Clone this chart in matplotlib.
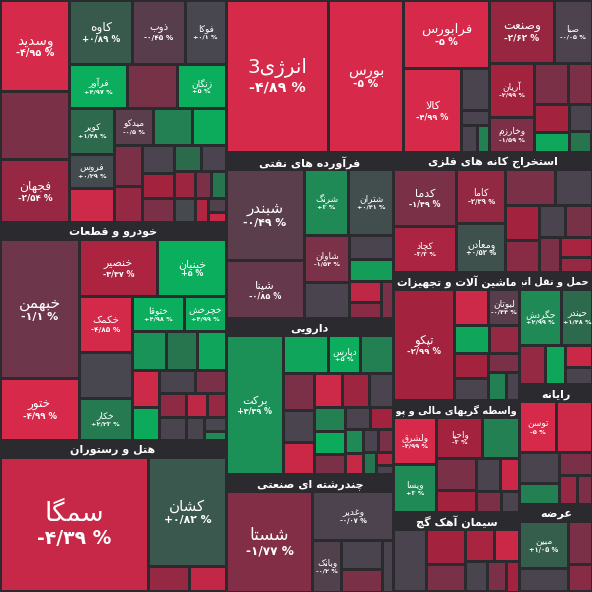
import unicodedata
import matplotlib
matplotlib.use("Agg")
import matplotlib.pyplot as plt
from matplotlib.patches import Rectangle
import numpy as np
from matplotlib.colors import LinearSegmentedColormap, Normalize

# ---------------- data ----------------
sector_names = {
    "TL": "", "AUTO": "خودرو و قطعات", "HOTEL": "هتل و رستوران",
    "FIN": "", "INV": "", "NAFT": "فرآورده های نفتی", "DARU": "دارویی",
    "CHAND": "چندرشته ای صنعتی", "ESTEKH": "استخراج کانه های فلزی",
    "MASH": "ماشین آلات و تجهیزات", "VASET": "واسطه گریهای مالی و پولی",
    "SIMAN": "سیمان آهک گچ", "HAML": "حمل و نقل انبارداری و ارتباطات",
    "RAYANE": "رایانه", "ARZE": "عرضه",
}
sector_sizes = {
    "TL": 50000, "AUTO": 49000, "HOTEL": 34000, "FIN": 40000, "INV": 15500,
    "NAFT": 27700, "DARU": 26000, "CHAND": 19500, "ESTEKH": 23600,
    "MASH": 16000, "VASET": 14000, "SIMAN": 10000, "HAML": 8100,
    "RAYANE": 8600, "ARZE": 6300,
}
TL_names = ["", "", "وسدید", "فجهان", "کاوه", "ذوب", "زنگان", "کویر", "فروس", "میدکو", "فوکا", "فرآور",
            "", "", "", "", "", "", "", "", "", "", "", "", "", "", "", "", ""]
TL_vals = [3750, 1750, 5100, 3500, 3200, 2700, 1700, 1600, 1200, 1150, 2100, 2000,
           1200, 1150, 1000, 900, 800, 700, 650, 600, 550, 500, 450, 400, 350, 300, 250, 200, 150]
TL_pct = [-1.5, -1.4, -4.95, -2.54, 0.89, -0.45, 5, 1.48, 0.29, -0.5, 0.1, 4.97,
          -4.6, 2.5, 4.8, -1.5, -2.5, 0.0, -3.0, -1.5, 1.5, 0.0, -2.8, 0.2, -1.6, 2.0, -3.5, -0.2, -4.5]

AUTO_names = ["خبهمن", "ختور", "خنصیر", "خبنیان", "خکمک", "خکار", "ختوقا", "خچرخش", "", "",
              "", "", "", "", "", "", "", "", "", "", "", "", ""]
AUTO_vals = [10800, 4800, 4400, 3800, 2900, 2200, 1800, 1400, 2400, 1300,
             1200, 1100, 1000, 900, 800, 700, 650, 600, 500, 450, 400, 300, 200]
AUTO_pct = [-1.1, -4.99, -3.37, 5, -4.85, 2.23, 4.98, 4.99, 0.1, 3.5,
            2.0, 4.5, -4.6, 4.8, 0.0, -1.5, -2.2, 0.0, -4.0, -2.5, 0.0, 0.1, 3.0]

HOTEL_names = ["سمگا", "کشان", "", ""]
HOTEL_vals = [19000, 8000, 900, 1000]
HOTEL_pct = [-4.39, 0.82, -4.2, -2.5]

FIN_names = ["انرژی3", "بورس", "فرابورس", "کالا", "", "", "", ""]
FIN_vals = [14500, 10700, 5500, 4500, 1100, 400, 400, 300]
FIN_pct = [-4.89, -5, -5, -4.99, 0.0, 0.0, 0.0, 2.5]

INV_names = ["وصنعت", "آریان", "صبا", "وخارزم", "", "", "", "", "", ""]
INV_vals = [3400, 2000, 2000, 1300, 1200, 800, 800, 600, 500, 400]
INV_pct = [-2.62, -2.99, -0.05, -1.59, -1.5, -3.0, -1.6, 4.6, 0.0, 2.0]

NAFT_names = ["شبندر", "شپنا", "شتران", "شرنگ", "شاوان", "", "", "", "", "", ""]
NAFT_vals = [6500, 4200, 2700, 2700, 2000, 1500, 1000, 900, 600, 500, 400]
NAFT_pct = [-0.49, -0.85, 0.41, 3, -1.54, 0.0, 0.0, 4.0, -4.0, -2.0, -1.5]

DARU_names = ["برکت", "دپارس", "", "", "", "", "", "", "", "", "", "", "", "", "", "", "", "", "", "", "", ""]
DARU_vals = [7000, 1100, 1500, 1100, 1000, 900, 900, 800, 800, 700, 650, 600, 550, 500, 450, 400, 350, 300, 300, 250, 200, 150]
DARU_pct = [3.39, 5, 4.5, 2.5, -1.6, -4.5, 0.0, -2.8, -4.6, 0.0, 2.5, 4.8, -1.5, 0.0, -3.0, 3.0, -4.3, -1.5, 0.0, 2.0, -3.5, 0.0]

CHAND_names = ["شستا", "وغدیر", "وبانک", "", "", ""]
CHAND_vals = [8700, 3900, 1500, 1200, 900, 600]
CHAND_pct = [-1.77, -0.07, -0.2, 0.0, -1.5, 0.0]

ESTEKH_names = ["کدما", "کچاد", "کاما", "ومعادن", "تاصیکو", "", "", "", "", "", "", "", ""]
ESTEKH_vals = [3000, 2400, 2200, 2000, 700, 1500, 1100, 1000, 900, 700, 600, 500, 400]
ESTEKH_pct = [-1.49, -3.3, -2.39, 0.52, -1.44, -1.5, 0.0, -3.0, -2.0, 0.0, -1.6, -3.2, -2.5]

MASH_names = ["تپکو", "لبوتان", "", "", "", "", "", "", "", ""]
MASH_vals = [5500, 900, 1000, 800, 700, 700, 600, 500, 400, 300]
MASH_pct = [-2.99, -0.44, -4.6, 4.5, -3.0, -2.5, 0.0, -1.5, 2.5, 0.0]

VASET_names = ["ولشرق", "ویسا", "واحیا", "", "", "", "", "", "", ""]
VASET_vals = [1600, 1600, 1500, 1200, 1000, 700, 600, 500, 400, 300]
VASET_pct = [-4.99, 3, -3, 2.5, -1.5, -3.0, 0.0, -4.5, -1.6, 0.0]

SIMAN_names = ["", "", "", "", "", "", "", ""]
SIMAN_vals = [1500, 1000, 800, 700, 600, 500, 400, 300]
SIMAN_pct = [0.0, -3.0, -1.5, -3.2, -4.5, 0.0, -1.5, -3.0]

HAML_names = ["حگردش", "حیندر", "", "", "", ""]
HAML_vals = [2100, 1500, 900, 700, 500, 400]
HAML_pct = [2.99, 1.48, -2.5, 4.5, -4.5, 0.0]

RAYANE_names = ["توسن", "", "", "", "", "", ""]
RAYANE_vals = [1800, 1700, 1200, 800, 700, 500, 400]
RAYANE_pct = [-5, -4.6, 0.0, 2.5, -1.5, -2.5, -1.6]

ARZE_names = ["مبین", "", "", ""]
ARZE_vals = [1800, 900, 800, 500]
ARZE_pct = [1.05, 0.0, -1.5, -2.0]

stocks = {
    "TL": (TL_names, TL_vals, TL_pct), "AUTO": (AUTO_names, AUTO_vals, AUTO_pct),
    "HOTEL": (HOTEL_names, HOTEL_vals, HOTEL_pct), "FIN": (FIN_names, FIN_vals, FIN_pct),
    "INV": (INV_names, INV_vals, INV_pct), "NAFT": (NAFT_names, NAFT_vals, NAFT_pct),
    "DARU": (DARU_names, DARU_vals, DARU_pct), "CHAND": (CHAND_names, CHAND_vals, CHAND_pct),
    "ESTEKH": (ESTEKH_names, ESTEKH_vals, ESTEKH_pct), "MASH": (MASH_names, MASH_vals, MASH_pct),
    "VASET": (VASET_names, VASET_vals, VASET_pct), "SIMAN": (SIMAN_names, SIMAN_vals, SIMAN_pct),
    "HAML": (HAML_names, HAML_vals, HAML_pct), "RAYANE": (RAYANE_names, RAYANE_vals, RAYANE_pct),
    "ARZE": (ARZE_names, ARZE_vals, ARZE_pct),
}
tree = ('h', [('v', ["TL", "AUTO", "HOTEL"]),
              ('v', [('h', ["FIN", "INV"]),
                     ('h', [('v', ["NAFT", "DARU", "CHAND"]),
                            ('v', ["ESTEKH", ('h', [('v', ["MASH", "VASET", "SIMAN"]),
                                                    ('v', ["HAML", "RAYANE", "ARZE"])])])])])])

# ---------------- persian shaping ----------------
def _form(ch, form):
    try:
        return unicodedata.lookup(unicodedata.name(ch) + " " + form + " FORM")
    except (KeyError, ValueError):
        return None

def _is_ar(ch):
    return '\u0600' <= ch <= '\u06FF' and not ('\u06F0' <= ch <= '\u06F9')

def _dual(ch):
    return _is_ar(ch) and _form(ch, "INITIAL") is not None

def shape(s):
    chars = list(s)
    i = 0
    res = []
    n = len(chars)
    while i < n:
        ch = chars[i]
        prev = chars[i - 1] if i > 0 else None
        join_prev = prev is not None and _dual(prev)
        if ch == 'ل' and i + 1 < n and chars[i + 1] in 'اآ':
            if chars[i + 1] == 'ا':
                g = '\uFEFC' if join_prev else '\uFEFB'
            else:
                g = '\uFEF6' if join_prev else '\uFEF5'
            res.append(g)
            i += 2
            continue
        if not _is_ar(ch):
            res.append(ch)
            i += 1
            continue
        nxt = chars[i + 1] if i + 1 < n else None
        join_next = nxt is not None and _is_ar(nxt) and _dual(ch)
        if join_prev and join_next:
            g = _form(ch, "MEDIAL")
        elif join_prev:
            g = _form(ch, "FINAL")
        elif join_next:
            g = _form(ch, "INITIAL")
        else:
            g = _form(ch, "ISOLATED")
        res.append(g or ch)
        i += 1
    return ''.join(res)[::-1]

FA_DIG = "۰۱۲۳۴۵۶۷۸۹"
def fa_pct(v):
    s = ("%.2f" % abs(v)).rstrip('0').rstrip('.')
    s = s.replace('.', '/')
    s = ''.join(FA_DIG[int(c)] if c.isdigit() else c for c in s)
    sign = '-' if v < 0 else '+'
    if abs(v) < 0.005:
        sign = ''
    return f"{sign}{s} %"

# ---------------- colors ----------------
cmap = LinearSegmentedColormap.from_list("m", [
    (0.0, "#d72a4a"), (0.2, "#a3233f"), (0.35, "#7a3148"), (0.5, "#4a444e"),
    (0.65, "#2c6a4c"), (0.8, "#1f8a56"), (1.0, "#0aae5c")])
norm = Normalize(-5, 5)

# ---------------- layout ----------------
def node_size(nd):
    if isinstance(nd, str):
        return sector_sizes[nd]
    return sum(node_size(c) for c in nd[1])

def layout(nd, x, y, w, h, out):
    if isinstance(nd, str):
        out[nd] = (x, y, w, h)
        return
    tot = node_size(nd)
    pos = 0.0
    for c in nd[1]:
        f = node_size(c) / tot
        if nd[0] == 'h':
            layout(c, x + pos * w, y, f * w, h, out)
        else:
            layout(c, x, y + pos * h, w, f * h, out)
        pos += f

def worst(row, side):
    s = sum(row)
    return max(max(side * side * r / (s * s), s * s / (side * side * r)) for r in row)

def squarify(vals, x, y, w, h):
    tot = sum(vals)
    areas = [v * w * h / tot for v in vals]
    rects = []
    i = 0
    while i < len(areas):
        side = min(w, h)
        row = [areas[i]]
        j = i + 1
        while j < len(areas) and worst(row + [areas[j]], side) <= worst(row, side):
            row.append(areas[j]); j += 1
        s = sum(row)
        if w >= h:
            rw = s / h; yy = y
            for a in row:
                rects.append((x, yy, rw, a / rw)); yy += a / rw
            x += rw; w -= rw
        else:
            rh = s / w; xx = x
            for a in row:
                rects.append((xx, y, a / rh, rh)); xx += a / rh
            y += rh; h -= rh
        i = j
    return rects

S = 592
fig = plt.figure(figsize=(5.92, 5.92), dpi=100)
fig.patch.set_facecolor("#2b2a2e")
ax = fig.add_axes([0, 0, 1, 1])
ax.set_xlim(0, S); ax.set_ylim(S, 0); ax.axis("off")
ax.set_facecolor("#2b2a2e")
renderer = fig.canvas.get_renderer()

rects = {}
layout(tree, 0, 0, S, S, rects)
GAP = 3
HDR = 17
for key, (x, y, w, h) in rects.items():
    name = sector_names[key]
    iy, ih = y, h
    if name:
        t = ax.text(x + w / 2, y + HDR / 2 + 1, shape(name), color="white", fontsize=8,
                    fontweight="bold", ha="center", va="center", family="DejaVu Sans")
        tw = t.get_window_extent(renderer).width
        if tw > w - 6:
            fs = max(7.0, 8 * (w - 6) / tw)
            t.set_fontsize(fs)
            tw = t.get_window_extent(renderer).width
            if tw > w - 6:
                # too long: keep the start of the RTL text on the right, clip the rest
                t.set_ha("right")
                t.set_x(x + w - 3)
                clip = Rectangle((x + 2, y), w - 4, HDR + 2, transform=ax.transData,
                                 facecolor="none", edgecolor="none")
                ax.add_patch(clip)
                t.set_clip_on(True)
                t.set_clip_path(clip)
        iy, ih = y + HDR, h - HDR
    names, vals, pcts = stocks[key]
    order = np.argsort(vals)[::-1]
    rs = squarify([vals[k] for k in order], x, iy, w, ih)
    for k, (rx, ry, rw, rh) in zip(order, rs):
        ax.add_patch(Rectangle((rx + GAP / 2, ry + GAP / 2), rw - GAP, rh - GAP,
                               facecolor=cmap(norm(pcts[k])), edgecolor="none"))
        nm = names[k]
        if nm and rw > 28 and rh > 24:
            fs = max(6.5, min(20, 0.14 * min(rw, rh)))
            cx, cy = rx + rw / 2, ry + rh / 2
            ax.text(cx, cy - fs * 0.55, shape(nm), color="white", fontsize=fs,
                    ha="center", va="center", family="DejaVu Sans")
            ax.text(cx, cy + fs * 0.75, fa_pct(pcts[k]), color="white", fontsize=fs * 0.72,
                    ha="center", va="center", family="DejaVu Sans", fontweight="bold")

fig.savefig("out.png", dpi=100, facecolor=fig.get_facecolor())
